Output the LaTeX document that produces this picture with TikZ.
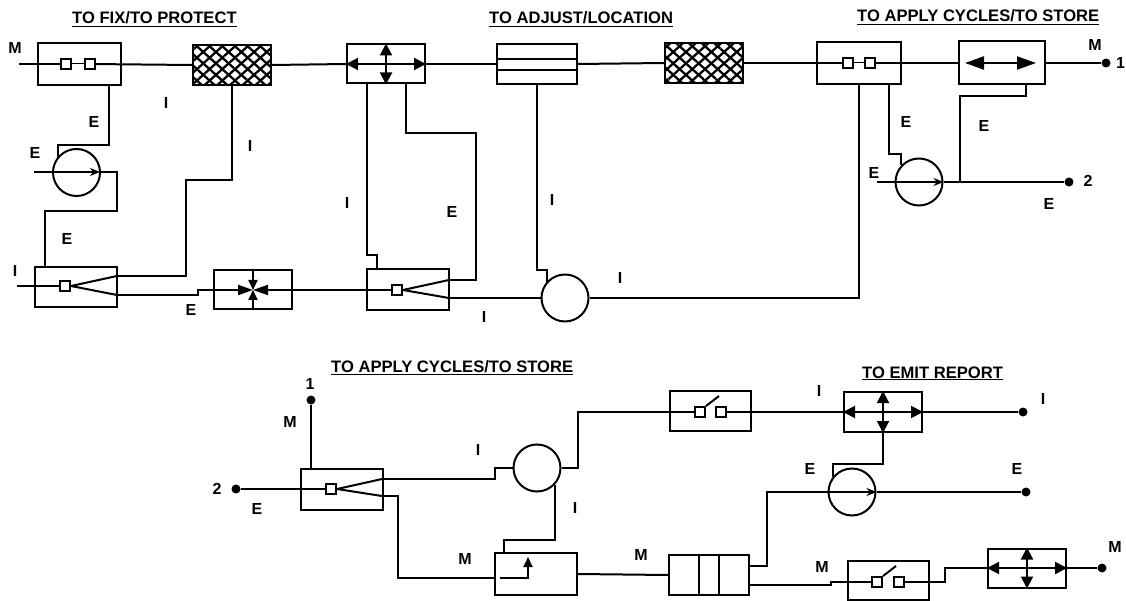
\documentclass[tikz,border=0pt]{standalone}
\usepackage{fontspec}
\setmainfont{Liberation Sans}
\usetikzlibrary{arrows.meta,positioning,calc,patterns.meta}
\tikzset{
  unit/.style={draw,line width=2pt,inner sep=0pt,minimum width=#1},
  unit/.default=82pt,
  hatched/.style={unit=78pt,minimum height=40pt,line width=2.4pt,
    preaction={pattern={Lines[angle=42,distance=8.5pt,line width=2.3pt]}},
    postaction={pattern={Lines[angle=-42,distance=8.5pt,line width=2.3pt]}}},
  port/.style={draw,line width=2pt,fill=white,inner sep=0pt,minimum size=10pt},
  wheel/.style={draw,line width=2pt,circle,inner sep=0pt,minimum size=47pt},
  endpt/.style={fill,circle,inner sep=0pt,minimum size=9pt},
  wire/.style={line width=2pt},
  thinwire/.style={line width=1pt},
  fork/.style={line width=2pt},
  bothways/.style={line width=2pt,{Triangle[length=12pt,width=12pt]}-{Triangle[length=12pt,width=12pt]}},
  bigways/.style={line width=2pt,{Triangle[length=19pt,width=13pt]}-{Triangle[length=19pt,width=13pt]}},
  inward/.style={line width=2pt,-{Triangle[length=15pt,width=10pt]}},
  inwardv/.style={line width=2pt,-{Triangle[length=10pt,width=9pt]}},
  flow/.style={line width=2pt,-{Stealth[length=10pt,width=8pt]}},
  lab/.style={font=\bfseries\fontsize{16}{16}\selectfont,inner sep=0pt},
  heading/.style={font=\bfseries\fontsize{16.6}{18}\selectfont,inner sep=0pt,anchor=base west},
}
\begin{document}
\begin{tikzpicture}[x=1pt,y=-1pt]
  \useasboundingbox (0,0) rectangle (1126,601);
  % upper chain
  \node[unit=83pt,minimum height=42pt] (fixbox) at (79,64) {};
  \node[port] (fixa) at (66,64) {};
  \node[port] (fixb) at (90,64) {};
  \node[hatched] (mesh) at (232,65) {};
  \node[unit=78pt,minimum height=39pt] (adjbox) at (386,64) {};
  \node[unit=80pt,minimum height=40pt] (stack) at (537,64) {};
  \node[hatched] (meshb) at (704,63) {};
  \node[unit=84pt,minimum height=42pt] (cyclebox) at (859,63) {};
  \node[port] (cyclea) at (848,63) {};
  \node[port] (cycleb) at (870,63) {};
  \node[unit=86pt,minimum height=43pt] (movebox) at (1002,63) {};
  \coordinate (inM) at (19,64);
  \node[endpt] (one) at (1106,63) {};
  \draw[wire] (inM) -- (fixa);
  \draw[thinwire] (fixa) -- (fixb);
  \draw[wire] (fixb) -- (mesh.west);
  \draw[wire] (mesh.east) -- (adjbox.west);
  \draw[bothways] (adjbox.west) -- (adjbox.east);
  \draw[bothways] (adjbox.north) -- (adjbox.south);
  \draw[wire] (adjbox.east) -- (stack.west);
  \draw[wire] (stack.west) ++(0,-5) -- ++(80,0);
  \draw[wire] (stack.west) ++(0,6) -- ++(80,0);
  \draw[wire] (stack.east) -- (meshb.west);
  \draw[wire] (meshb.east) -- (cyclebox.west);
  \draw[wire] (cyclebox.west) -- (cyclea);
  \draw[thinwire] (cyclea) -- (cycleb);
  \draw[wire] (cycleb) -- (movebox.west);
  \draw[bigways] ([xshift=7pt]movebox.west) -- ([xshift=-10pt]movebox.east);
  \draw[wire] (movebox.east) -- (one);
  % lower chain of the upper row
  \node[wheel] (pumpa) at (76.5,172.5) {};
  \node[unit=82pt,minimum height=40pt] (splita) at (76,287) {};
  \node[port] (splitap) at (65,286) {};
  \node[unit=78pt,minimum height=39pt] (pressbox) at (253,290) {};
  \node[unit=82pt,minimum height=41pt] (splitb) at (408,290) {};
  \node[port] (splitbp) at (397,290) {};
  \node[wheel] (hub) at (565,298) {};
  \node[wheel] (pumpb) at (919,182) {};
  \node[endpt] (two) at (1069,182) {};
  \coordinate (inE) at (34,172);
  \coordinate (inI) at (17,286);
  \coordinate (inEb) at (877,182);
  \coordinate (sau) at (117,276);
  \coordinate (sad) at (117,295);
  \coordinate (sbu) at (449,280);
  \coordinate (sbd) at (449,298);
  \draw[wire] ([xshift=30pt]fixbox.south) -- (109,145) -- (58,145) -- (58,157);
  \draw[flow] (inE) -- (100,172);
  \draw[wire] (100,172) -- (117,172) -- (117,211) -- (45,211) -- (45,267);
  \draw[wire] (inI) -- (splitap);
  \draw[fork] (splitap.east) -- (sau);
  \draw[fork] (splitap.east) -- (sad);
  \draw[wire] (sau) -- (186,276) -- (186,180) -- (232,180) -- (mesh.south);
  \draw[wire] (sad) -- (198,295) -- (198,290) -- (pressbox.west);
  \draw[inward] (pressbox.west) -- (pressbox.center);
  \draw[inward] (pressbox.east) -- (pressbox.center);
  \draw[inwardv] (pressbox.north) -- (pressbox.center);
  \draw[inwardv] (pressbox.south) -- (pressbox.center);
  \draw[wire] (pressbox.east) -- (splitb.west);
  \draw[wire] (splitb.west) -- (splitbp);
  \draw[fork] (splitbp.east) -- (sbu);
  \draw[fork] (splitbp.east) -- (sbd);
  \draw[wire] ([xshift=-19pt]adjbox.south) -- (367,255) -- (377,255) -- (377,270);
  \draw[wire] ([xshift=20pt]adjbox.south) -- (406,133) -- (476,133) -- (476,280) -- (sbu);
  \draw[wire] (sbd) -- (hub.west);
  \draw[wire] (stack.south) -- (537,270) -- (547,270) -- (547,283);
  \draw[wire] (hub.east) -- (859,298) -- (cyclebox.south);
  \draw[wire] ([xshift=30pt]cyclebox.south) -- (889,154) -- (901,154) -- (901,165);
  \draw[flow] (inEb) -- (pumpb.east);
  \draw[wire] (pumpb.east) -- (two);
  \draw[wire] (960,182) -- (960,96) -- (1026,96) -- ([xshift=24pt]movebox.south);
  % lower row
  \node[endpt] (oneb) at (311,400) {};
  \node[endpt] (twob) at (236,489) {};
  \node[unit=82pt,minimum height=41pt] (splitc) at (342,489) {};
  \node[port] (splitcp) at (331,489) {};
  \node[wheel] (hubb) at (537,468) {};
  \node[unit=82pt,minimum height=42pt] (latch) at (536,574) {};
  \node[unit=81pt,minimum height=40pt] (swa) at (710,411) {};
  \node[port] (swaa) at (700,412) {};
  \node[port] (swab) at (721,412) {};
  \node[unit=78pt,minimum height=40pt] (report) at (883,412) {};
  \node[endpt] (outI) at (1023,412) {};
  \node[wheel] (pumpc) at (852,492) {};
  \node[endpt] (outE) at (1026,492) {};
  \node[unit=80pt,minimum height=40pt] (bank) at (709,575) {};
  \node[unit=81pt,minimum height=39pt] (swb) at (888,580) {};
  \node[port] (swba) at (877,582) {};
  \node[port] (swbb) at (899,582) {};
  \node[unit=78pt,minimum height=39pt] (cross) at (1027,568) {};
  \node[endpt] (outM) at (1102,568) {};
  \coordinate (scu) at (382,479);
  \coordinate (scd) at (382,496);
  \draw[wire] (oneb) -- (splitc.north -| oneb);
  \draw[wire] (twob) -- (splitcp);
  \draw[fork] (splitcp.east) -- (scu);
  \draw[fork] (splitcp.east) -- (scd);
  \draw[wire] (scu) -- (495,479) -- (495,468) -- (hubb.west);
  \draw[wire] (hubb.east) -- (578,468) -- (578,412) -- (swa.west |- 0,412);
  \draw[wire] (swa.west |- 0,412) -- (swaa);
  \draw[wire] (swaa.north east) -- ++(13,-10);
  \draw[wire] (swab) -- (report.west);
  \draw[bothways] (report.west) -- (report.east);
  \draw[bothways] (report.north) -- (report.south);
  \draw[wire] (report.east) -- (outI);
  \draw[wire] (555,485) -- (555,540) -- (504,540) -- (504,553);
  \draw[wire] (scd) -- (398,496) -- (398,578) -- (latch.west |- 0,578);
  \draw[wire] (500,578) -- (528,578) -- (528,570);
  \draw[inwardv] (528,572) -- (528,557);
  \draw[wire] (latch.east) -- (bank.west);
  \draw[wire] (699,555) -- (699,595);
  \draw[wire] (719,555) -- (719,595);
  \draw[wire] (749,566) -- (767,566) -- (767,492) -- (pumpc.west);
  \draw[flow] (pumpc.west) -- (pumpc.east);
  \draw[wire] (pumpc.east) -- (outE);
  \draw[wire] (report.south) -- (883,464) -- (833,464) -- (833,477);
  \draw[wire] (749,585) -- (831,585) -- (831,582) -- (swb.west |- 0,582);
  \draw[wire] (swb.west |- 0,582) -- (swba);
  \draw[wire] (swba.north east) -- ++(13,-10);
  \draw[wire] (swbb) -- (945,582) -- (945,568) -- (cross.west);
  \draw[bothways] (cross.west) -- (cross.east);
  \draw[bothways] (cross.north) -- (cross.south);
  \draw[wire] (cross.east) -- (outM);
  % headings
  \node[heading] (hfix) at (72,24) {\underline{TO FIX/TO PROTECT}};
  \node[heading] (hadj) at (489,24) {\underline{TO ADJUST/LOCATION}};
  \node[heading] (hcyc) at (857,22) {\underline{TO APPLY CYCLES/TO STORE}};
  \node[heading] (hcycb) at (331,372.7) {\underline{TO APPLY CYCLES/TO STORE}};
  \node[heading] (hemit) at (862,378) {\underline{TO EMIT REPORT}};
  % flow letters
  \node[lab] (la) at (15,48) {M};
  \node[lab] (lb) at (94,122) {E};
  \node[lab] (lc) at (166,103) {I};
  \node[lab] (ld) at (250,146) {I};
  \node[lab] (le) at (35,153) {E};
  \node[lab] (lf) at (67,239) {E};
  \node[lab] (lg) at (15,271) {I};
  \node[lab] (lh) at (191,310) {E};
  \node[lab] (li) at (347,203) {I};
  \node[lab] (lj) at (452,212) {E};
  \node[lab] (lk) at (552,200) {I};
  \node[lab] (ll) at (620,278) {I};
  \node[lab] (lm) at (484,317) {I};
  \node[lab] (ln) at (906,122) {E};
  \node[lab] (lo) at (874,173) {E};
  \node[lab] (lp) at (984,126) {E};
  \node[lab] (lq) at (1095,45) {M};
  \node[lab] (lr) at (1120.5,63) {1};
  \node[lab] (ls) at (1088,181) {2};
  \node[lab] (lt) at (1049,204) {E};
  \node[lab] (lu) at (310,384) {1};
  \node[lab] (lv) at (290,422) {M};
  \node[lab] (lw) at (217,489) {2};
  \node[lab] (lx) at (257,509) {E};
  \node[lab] (ly) at (478,450) {I};
  \node[lab] (lz) at (575,508) {I};
  \node[lab] (maa) at (465,559) {M};
  \node[lab] (mab) at (641,555) {M};
  \node[lab] (mac) at (819,391) {I};
  \node[lab] (mad) at (1043,399) {I};
  \node[lab] (mae) at (810,469) {E};
  \node[lab] (maf) at (1017,469) {E};
  \node[lab] (mag) at (822,567) {M};
  \node[lab] (mah) at (1115,547) {M};
\end{tikzpicture}
\end{document}
